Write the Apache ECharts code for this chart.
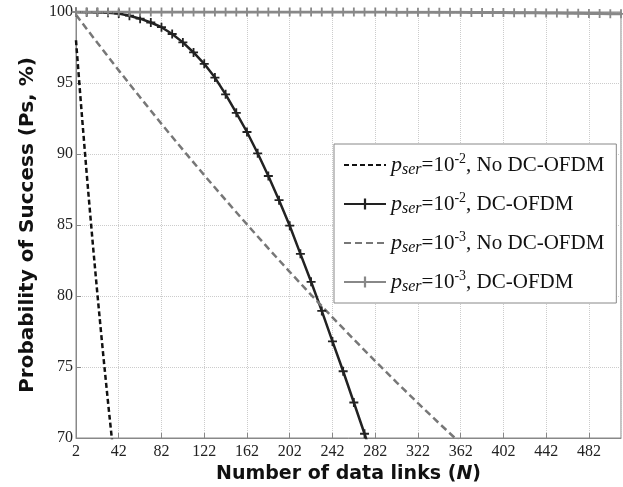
<!DOCTYPE html>
<html>
<head>
<meta charset="utf-8">
<script src="https://cdn.jsdelivr.net/npm/echarts@6/dist/echarts.min.js"></script>
<style>
html,body{margin:0;padding:0;background:#fff;}
#chart{width:623px;height:487px;}
</style>
</head>
<body>
<div id="chart"></div>
<script>
// ---- data ----
// p_ser = 1e-2, No DC-OFDM (dashed black)
const nNoDC2 = [2,4,6,8,10,12,14,16,18,20,22,24,26,28,30,32,34,36,38];
const psNoDC2 = [98.01,96.06,94.15,92.27,90.44,88.64,86.87,85.15,83.45,81.79,80.16,78.57,77.00,75.47,73.97,72.50,71.06,69.64,68.25];
// p_ser = 1e-2, DC-OFDM (solid black, + markers)
const nDC2 = [2,12,22,32,42,52,62,72,82,92,102,112,122,132,142,152,162,172,182,192,202,212,222,232,242,252,262,272,282];
const psDC2 = [100,99.99,99.98,99.95,99.89,99.74,99.53,99.26,98.93,98.45,97.86,97.15,96.35,95.38,94.2,92.9,91.55,90.05,88.45,86.75,84.95,82.97,81.0,78.95,76.8,74.7,72.5,70.3,68.0];
// p_ser = 1e-3, No DC-OFDM (dashed gray)
const nNoDC3 = [2,22,42,62,82,102,122,142,162,182,202,222,242,262,282,302,322,342,362];
const psNoDC3 = [99.80,97.83,95.89,93.99,92.12,90.30,88.51,86.76,85.04,83.35,81.70,80.08,78.50,76.94,75.42,73.92,72.46,71.02,69.62];
// p_ser = 1e-3, DC-OFDM (solid gray, + markers)
const nDC3 = [2,12,22,32,42,52,62,72,82,92,102,112,122,132,142,152,162,172,182,192,202,212,222,232,242,252,262,272,282,292,302,312,322,332,342,352,362,372,382,392,402,412,422,432,442,452,462,472,482,492,502,512];
const psDC3 = [100,100,100,100,100,100,100,100,100,100,100,100,100,100,100,100,100,100,100,100,100,100,100,100,100,100,100,100,100,100,99.99,99.99,99.99,99.99,99.98,99.98,99.98,99.97,99.97,99.96,99.96,99.95,99.95,99.94,99.93,99.93,99.92,99.91,99.90,99.89,99.88,99.87];

const seriesNames = ['a','b','c','d'];
const legendLabels = {
  a: '{p|p}{s|ser}{n|=10}{sup|-2}{n|, No DC-OFDM}',
  b: '{p|p}{s|ser}{n|=10}{sup|-2}{n|, DC-OFDM}',
  c: '{p|p}{s|ser}{n|=10}{sup|-3}{n|, No DC-OFDM}',
  d: '{p|p}{s|ser}{n|=10}{sup|-3}{n|, DC-OFDM}'
};

function pairs(xs, ys){ return xs.map((x,i)=>[x, ys[i]]); }

const plus = 'path://M4,0H6V4H10V6H6V10H4V6H0V4H4Z';
const serif = 'Liberation Serif';
const sans = 'DejaVu Sans';

const chart = echarts.init(document.getElementById('chart'), null, {renderer:'canvas'});
chart.setOption({
  animation:false,
  backgroundColor:'#fff',
  grid:{left:76, right:2, top:12, bottom:49, show:true, borderColor:'#888', borderWidth:1,
        containLabel:false, outerBoundsMode:'none'},
  xAxis:{
    type:'value', min:2, max:512, interval:40,
    name:'{b|Number of data links (}{i|N}{b|)}',
    nameLocation:'middle', nameGap:26,
    nameTextStyle:{rich:{
      b:{fontFamily:sans, fontWeight:'bold', fontSize:19, color:'#111'},
      i:{fontFamily:sans, fontWeight:'bold', fontStyle:'italic', fontSize:19, color:'#111'}
    }},
    axisLine:{lineStyle:{color:'#888', width:1}},
    axisTick:{inside:true, length:5, lineStyle:{color:'#888'}},
    axisLabel:{fontFamily:serif, fontSize:16, color:'#222', margin:6, showMaxLabel:false},
    splitLine:{show:true, lineStyle:{color:'#ccc', type:'dotted', width:1}}
  },
  yAxis:{
    type:'value', min:70, max:100, interval:5,
    name:'Probability of Success (Ps, %)',
    nameLocation:'middle', nameGap:38,
    nameTextStyle:{fontFamily:sans, fontWeight:'bold', fontSize:20, color:'#111'},
    axisLine:{show:true, lineStyle:{color:'#888', width:1}},
    axisTick:{show:true, inside:true, length:5, lineStyle:{color:'#888'}},
    axisLabel:{fontFamily:serif, fontSize:16, color:'#222', margin:3},
    splitLine:{show:true, lineStyle:{color:'#ccc', type:'dotted', width:1}}
  },
  legend:{
    orient:'vertical', left:334, top:144,
    data:[
      {name:'a', itemStyle:{opacity:0}},
      {name:'b'},
      {name:'c', itemStyle:{opacity:0}},
      {name:'d'}
    ],
    backgroundColor:'#fff', borderColor:'#888', borderWidth:1,
    padding:[8,12,8,9],
    itemWidth:42, itemHeight:14, itemGap:13,
    formatter:name=>legendLabels[name],
    textStyle:{
      color:'#111', lineHeight:26,
      rich:{
        p:{fontFamily:serif, fontStyle:'italic', fontSize:22, color:'#111'},
        s:{fontFamily:serif, fontStyle:'italic', fontSize:16, color:'#111', verticalAlign:'bottom', padding:[6,0,0,0]},
        n:{fontFamily:serif, fontSize:21, color:'#111'},
        sup:{fontFamily:serif, fontSize:14, color:'#111', verticalAlign:'top', padding:[0,0,8,0]}
      }
    }
  },
  series:[
    {name:'a', type:'line', data:pairs(nNoDC2, psNoDC2), symbol:'none', clip:true,
     lineStyle:{color:'#111', width:2.5, type:[5,3]}, itemStyle:{color:'#111'}},
    {name:'b', type:'line', data:pairs(nDC2, psDC2), symbol:plus, symbolSize:9, clip:true,
     lineStyle:{color:'#222', width:2.5}, itemStyle:{color:'#222'}},
    {name:'c', type:'line', data:pairs(nNoDC3, psNoDC3), symbol:'none', clip:true,
     lineStyle:{color:'#777', width:2.5, type:[7,4]}, itemStyle:{color:'#777'}},
    {name:'d', type:'line', data:pairs(nDC3, psDC3), symbol:plus, symbolSize:9, clip:true,
     lineStyle:{color:'#888', width:3}, itemStyle:{color:'#888'}}
  ]
});
</script>
</body>
</html>
